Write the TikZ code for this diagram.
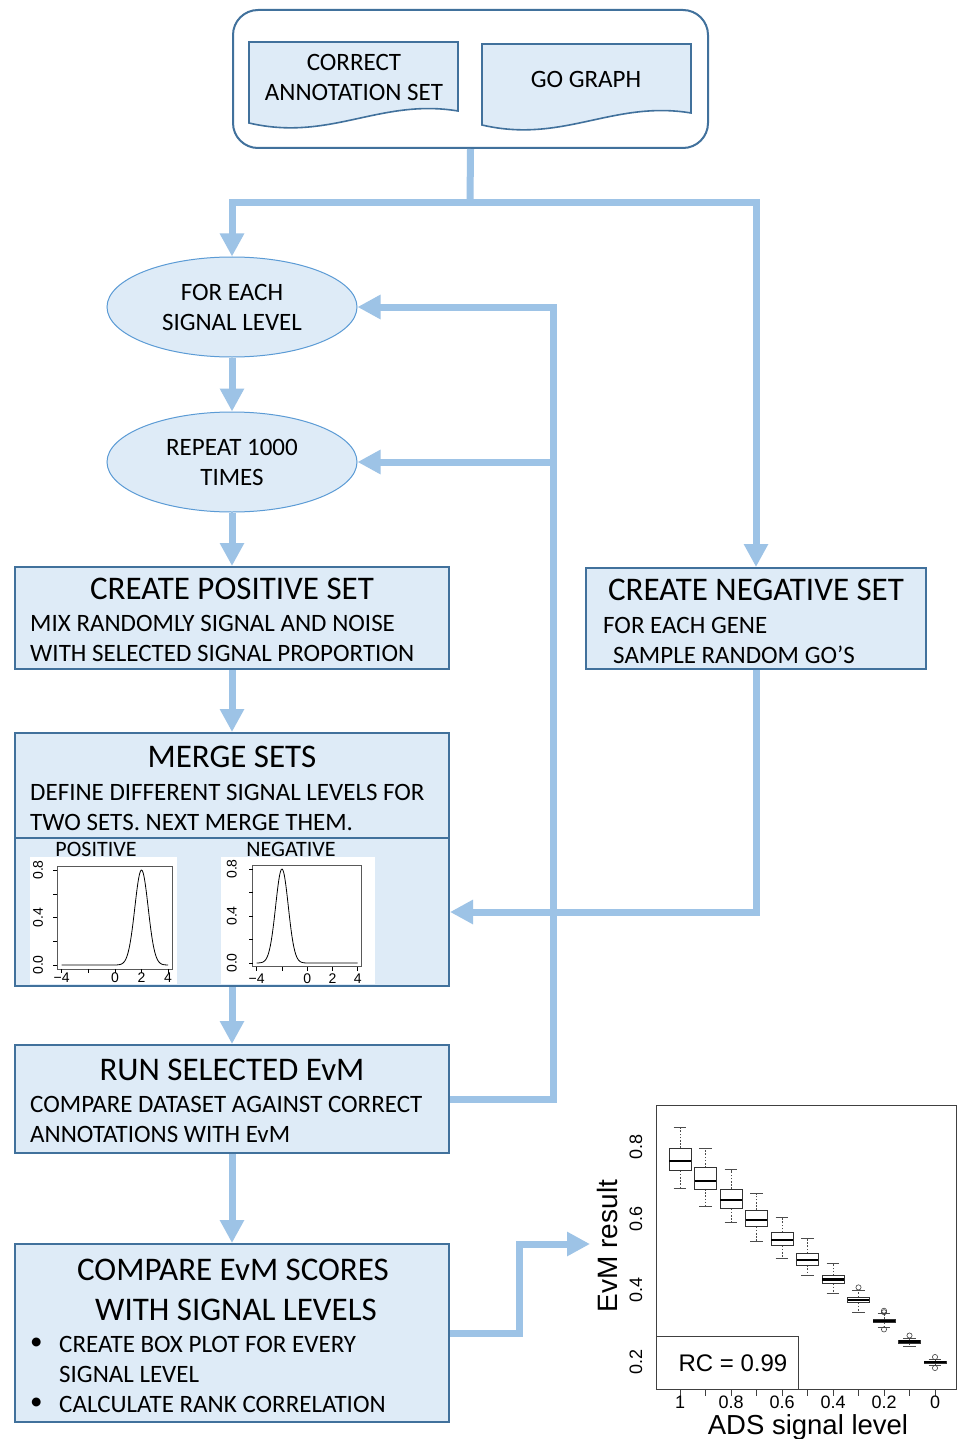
\documentclass[tikz,border=0pt]{standalone}
\usepackage{fontspec}
\setmainfont{Carlito}
\newfontfamily\plotfont{Liberation Sans}
\usetikzlibrary{arrows.meta,shapes.geometric}
\definecolor{boxfill}{RGB}{222,235,247}
\definecolor{boxline}{RGB}{65,113,156}
\definecolor{conncol}{RGB}{157,195,230}
\definecolor{elline}{RGB}{91,155,213}
\begin{document}
\begin{tikzpicture}[x=1pt,y=-1pt,
  box/.style={rectangle,draw=boxline,fill=boxfill,line width=2pt,inner sep=0},
  doc/.style={draw=boxline,fill=boxfill,line width=1.6pt,line join=miter},
  ell/.style={ellipse,draw=elline,fill=boxfill,line width=1pt,minimum width=250pt,minimum height=100pt,inner sep=0,align=center,font=\fontsize{25}{30}\selectfont},
  body/.style={inner sep=0,anchor=west,font=\fontsize{25}{30}\selectfont},
  cbody/.style={inner sep=0,align=center,font=\fontsize{25}{30}\selectfont},
  title/.style={inner sep=0,font=\fontsize{33}{36}\selectfont},
  conn/.style={draw=conncol,line width=7pt},
  arr/.style={conn,-{Triangle[width=23pt,length=23pt]}},
  ptxt/.style={inner sep=0,font=\plotfont\fontsize{14}{14}\selectfont},
  btxt/.style={inner sep=0,anchor=base,font=\plotfont\fontsize{18}{18}\selectfont},
  plotline/.style={line width=0.8pt,black},
]
\useasboundingbox (0,0) rectangle (961,1439);
\fill[white] (0,0) rectangle (961,1439);

% top container
\node[box,rounded corners=25pt,fill=white,minimum width=475pt,minimum height=138pt] (outer) at (470.5,79) {};
\draw[doc] (249,42) -- (458,42) -- (458,111) .. controls (380,98) and (330,142) .. (249,123) -- cycle;
\draw[doc] (482,44) -- (691,44) -- (691,113) .. controls (613,100) and (563,144) .. (482,125) -- cycle;
\node[cbody] (tcorrect) at (354,77) {CORRECT\\ANNOTATION SET};
\node[cbody] (tgo) at (586,79) {GO GRAPH};

% ellipses
\node[ell] (e1) at (232,307) {FOR EACH\\SIGNAL LEVEL};
\node[ell] (e2) at (232,462) {REPEAT 1000\\TIMES};

% positive set
\node[box,minimum width=434pt,minimum height=102pt] (pos) at (232,618) {};
\node[title] (tpos) at (232,589) {CREATE POSITIVE SET};
\node[body] (bpos1) at (30,623) {MIX RANDOMLY SIGNAL AND NOISE};
\node[body] (bpos2) at (30,653) {WITH SELECTED SIGNAL PROPORTION};

% negative set
\node[box,minimum width=340pt,minimum height=101pt] (neg) at (756,618.5) {};
\node[title] (tneg) at (756,590) {CREATE NEGATIVE SET};
\node[body] (bneg1) at (603,625) {FOR EACH GENE};
\node[body] (bneg2) at (613,655) {SAMPLE RANDOM GO’S};

% merge sets
\node[box,minimum width=434pt,minimum height=105pt] (mtop) at (232,785.5) {};
\node[box,minimum width=434pt,minimum height=148pt] (mbot) at (232,912) {};
\node[title] (tmerge) at (232,757) {MERGE SETS};
\node[body] (bm1) at (30,792) {DEFINE DIFFERENT SIGNAL LEVELS FOR};
\node[body] (bm2) at (30,822) {TWO SETS. NEXT MERGE THEM.};
\fill[white] (29.5,856.5) rectangle (176.5,984);
\fill[white] (220.5,856.5) rectangle (375,984);
\node[inner sep=0,font=\fontsize{22}{22}\selectfont] (lpos) at (96,849) {POSITIVE};
\node[inner sep=0,font=\fontsize{22}{22}\selectfont] (lneg) at (291,849) {NEGATIVE};

% density plot 1
\begin{scope}[shift={(114.9,965)},xscale=13.3,yscale=-118.75]
  \draw[line width=0.6pt,gray!70!black] (-4.32,-0.032) rectangle (4.32,0.832);
  \draw[plotline] plot[domain=-4:4,samples=120,smooth] (\x,{0.8*exp(-2*(\x-2)*(\x-2))});
  \foreach \t in {-4,-2,0,2,4} \draw[line width=0.5pt] (\t,-0.032) -- (\t,-0.066);
  \foreach \v in {0,0.2,0.4,0.6,0.8} \draw[line width=0.5pt] (-4.32,\v) -- (-4.62,\v);
  \foreach \v/\l in {0/0.0,0.4/0.4,0.8/0.8} \node[ptxt,rotate=90] at (-5.78,\v) {\l};
  \foreach \t/\l in {-4/−4,0/0,2/2,4/4} \node[ptxt] at (\t,-0.109) {\l};
\end{scope}
% density plot 2
\begin{scope}[shift={(307.2,963)},xscale=12.62,yscale=-117.5]
  \draw[line width=0.6pt,gray!70!black] (-4.32,-0.032) rectangle (4.32,0.832);
  \draw[plotline] plot[domain=-4:4,samples=120,smooth] (\x,{0.8*exp(-2*(\x+2)*(\x+2))});
  \foreach \t in {-4,-2,0,2,4} \draw[line width=0.5pt] (\t,-0.032) -- (\t,-0.066);
  \foreach \v in {0,0.2,0.4,0.6,0.8} \draw[line width=0.5pt] (-4.32,\v) -- (-4.62,\v);
  \foreach \v/\l in {0/0.0,0.4/0.4,0.8/0.8} \node[ptxt,rotate=90] at (-5.98,\v) {\l};
  \foreach \t/\l in {-4/−4,0/0,2/2,4/4} \node[ptxt] at (\t,-0.13) {\l};
\end{scope}

% run EvM
\node[box,minimum width=434pt,minimum height=108pt] (run) at (232,1099) {};
\node[title] (trun) at (232,1070) {RUN SELECTED EvM};
\node[body] (br1) at (30,1104) {COMPARE DATASET AGAINST CORRECT};
\node[body] (br2) at (30,1134) {ANNOTATIONS WITH EvM};

% compare
\node[box,minimum width=434pt,minimum height=178pt] (cmp) at (232,1333) {};
\node[title] (tc1) at (233,1270) {COMPARE EvM SCORES};
\node[title] (tc2) at (236,1310) {WITH SIGNAL LEVELS};
\node[body] (bu1) at (30,1344) {•};
\node[body] (bu2) at (30,1404) {•};
\node[body] (bc1) at (59,1344) {CREATE BOX PLOT FOR EVERY};
\node[body] (bc2) at (59,1374) {SIGNAL LEVEL};
\node[body] (bc3) at (59,1404) {CALCULATE RANK CORRELATION};

% box plot
\node[rectangle,draw=black!75,line width=0.8pt,fill=white,minimum width=300pt,minimum height=284pt,inner sep=0] (bp) at (806.5,1247.5) {};
\node[rectangle,draw=black!75,line width=0.8pt,minimum width=142pt,minimum height=53pt,inner sep=0,anchor=south west] (rc) at (bp.south west) {};
\node[inner sep=0,font=\plotfont\fontsize{24}{24}\selectfont] (rct) at (733,1363) {RC = 0.99};
\begin{scope}[shift={(680,1433.64)},xscale=25.5,yscale=-358.3]
  \foreach \i/\wl/\qa/\md/\qb/\wh in {0/0.686/0.734/0.762/0.797/0.856,1/0.634/0.683/0.706/0.742/0.797,2/0.589/0.628/0.652/0.683/0.737,3/0.537/0.578/0.597/0.624/0.670,4/0.489/0.525/0.540/0.561/0.604,5/0.442/0.470/0.484/0.503/0.545,6/0.392/0.419/0.430/0.441/0.475,7/0.340/0.366/0.373/0.381/0.400,8/0.298/0.310/0.314/0.320/0.336,9/0.244/0.253/0.257/0.261/0.266,10/0.190/0.197/0.199/0.202/0.208}{
    \draw[black!70,line width=0.6pt,dash pattern=on 1.6pt off 1.6pt] (\i,\qb) -- (\i,\wh) (\i,\qa) -- (\i,\wl);
    \draw[black!70,line width=0.6pt] (\i-0.25,\wh) -- (\i+0.25,\wh) (\i-0.25,\wl) -- (\i+0.25,\wl);
    \draw[black!80,line width=0.7pt] (\i-0.43,\qa) rectangle (\i+0.43,\qb);
    \draw[black,line width=2.2pt] (\i-0.43,\md) -- (\i+0.43,\md);
  }
  \foreach \i in {0,...,10} \draw[black!75,line width=0.6pt] (\i,0.1227) -- (\i,0.1060);
\end{scope}
\foreach \px/\py in {858.5/1287.4,884/1310.7,884/1312.2,884/1329.4,909.5/1335.5,935/1357,935/1368}
  \draw[black!75,line width=0.6pt] (\px,\py) circle[radius=2.6];
\foreach \v/\yy in {0.8/1147,0.6/1219,0.4/1290,0.2/1362}
  \node[inner sep=0,font=\plotfont\fontsize{18}{18}\selectfont,rotate=90] at (636,\yy) {\v};
\foreach \v/\xx in {1/680,0.8/731,0.6/782,0.4/833,0.2/884,0/935}
  \node[btxt] at (\xx,1408) {\v};
\node[inner sep=0,anchor=base,font=\plotfont\fontsize{27.5}{28}\selectfont] (xlab) at (808,1434.5) {ADS signal level};
\node[inner sep=0,rotate=90,font=\plotfont\fontsize{28}{28}\selectfont] (ylab) at (607,1246) {EvM result};

% connectors
\coordinate (split) at (470,203);
\coordinate (fbtop) at (553,307);
\coordinate (fbmid) at (553,462);
\coordinate (jog) at (519,1333);
\coordinate (bptip) at (590,1244);
\draw[conn] (outer.south) -- (split);
\draw[arr] (split) -| (e1.north);
\draw[arr] (split) -| (neg.north);
\draw[arr] (e1.south) -- (e2.north);
\draw[arr] (e2.south) -- (pos.north);
\draw[arr] (pos.south) -- (mtop.north);
\draw[arr] (neg.south) |- (mbot.east);
\draw[arr] (mbot.south) -- (run.north);
\draw[arr] (run.east) -| (fbtop) -- (e1.east);
\draw[arr] (fbmid) -- (e2.east);
\draw[arr] (run.south) -- (cmp.north);
\draw[arr] (cmp.east) -- (jog) |- (bptip);
\end{tikzpicture}
\end{document}
